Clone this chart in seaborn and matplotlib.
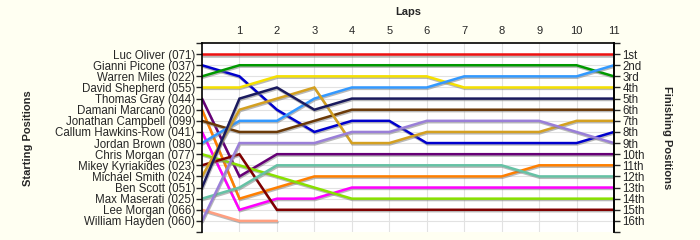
import matplotlib
matplotlib.use("Agg")
import matplotlib.pyplot as plt
import matplotlib.patheffects as pe
import seaborn as sns
import pandas as pd

# ---- data ----
laps = list(range(0, 12))
drivers = ["Luc Oliver (071)", "Gianni Picone (037)", "Warren Miles (022)",
           "David Shepherd (055)", "Thomas Gray (044)", "Damani Marcano (020)",
           "Jonathan Campbell (099)", "Callum Hawkins-Row (041)", "Jordan Brown (080)",
           "Chris Morgan (077)", "Mikey Kyriakides (023)", "Michael Smith (024)",
           "Ben Scott (051)", "Max Maserati (025)", "Lee Morgan (066)",
           "William Hayden (060)"]
luc_oliver = [1, 1, 1, 1, 1, 1, 1, 1, 1, 1, 1, 1]
gianni_picone = [2, 3, 6, 8, 7, 7, 9, 9, 9, 9, 9, 8]
warren_miles = [3, 2, 2, 2, 2, 2, 2, 2, 2, 2, 2, 3]
david_shepherd = [4, 4, 3, 3, 3, 3, 3, 4, 4, 4, 4, 4]
thomas_gray = [5, 12, 10, 10, 10, 10, 10, 10, 10, 10, 10, 10]
damani_marcano = [6, 14, 13, 12, 12, 12, 12, 12, 12, 11, 11, 11]
jonathan_campbell = [7, 8, 8, 7, 6, 6, 6, 6, 6, 6, 6, 6]
callum_hawkins_row = [8, 15, 14, 14, 13, 13, 13, 13, 13, 13, 13, 13]
jordan_brown = [9, 7, 7, 5, 4, 4, 4, 3, 3, 3, 3, 2]
chris_morgan = [10, 11, 12, 13, 14, 14, 14, 14, 14, 14, 14, 14]
mikey_kyriakides = [11, 10, 15, 15, 15, 15, 15, 15, 15, 15, 15, 15]
michael_smith = [12, 6, 5, 4, 9, 9, 8, 8, 8, 8, 7, 7]
ben_scott = [13, 5, 4, 6, 5, 5, 5, 5, 5, 5, 5, 5]
max_maserati = [14, 13, 11, 11, 11, 11, 11, 11, 11, 12, 12, 12]
lee_morgan = [15, 16, 16]
william_hayden = [16, 9, 9, 9, 8, 8, 7, 7, 7, 7, 8, 9]
finish_labels = ["1st", "2nd", "3rd", "4th", "5th", "6th", "7th", "8th", "9th",
                 "10th", "11th", "12th", "13th", "14th", "15th", "16th"]

series = [luc_oliver, gianni_picone, warren_miles, david_shepherd, thomas_gray,
          damani_marcano, jonathan_campbell, callum_hawkins_row, jordan_brown,
          chris_morgan, mikey_kyriakides, michael_smith, ben_scott, max_maserati,
          lee_morgan, william_hayden]

colors = ["#ee1111", "#0000cc", "#009900", "#f5e000", "#660077", "#ff7f00",
          "#6b3a08", "#ff00ff", "#3399ff", "#88e000", "#800000", "#d4a020",
          "#1a1a5e", "#66c2a5", "#ff9f80", "#9a7fd8"]

rows = []
for name, vals in zip(drivers, series):
    for lap, p in zip(laps, vals):
        rows.append({"driver": name, "lap": lap, "pos": p})
df = pd.DataFrame(rows)

# ---- figure ----
sns.set_style("white")
plt.rcParams["font.family"] = ["Liberation Sans", "DejaVu Sans"]

bg = "#fffff2"
fig = plt.figure(figsize=(7, 2.4), dpi=100, facecolor=bg)
ax = fig.add_axes([202 / 700, 1 - 232 / 240, (614 - 202) / 700, (232 - 43) / 240])
ax.set_facecolor("white")

sns.lineplot(data=df, x="lap", y="pos", hue="driver", hue_order=drivers,
             palette=colors, estimator=None, sort=False, legend=False,
             linewidth=1.8, ax=ax)
for line in ax.get_lines():
    line.set_path_effects([pe.SimpleLineShadow(offset=(0.5, -1.0),
                                               shadow_color="#808080", alpha=0.55),
                           pe.Normal()])
    line.set_solid_joinstyle("miter")

ax.set_xlim(0, 11)
ax.set_ylim(17, 0)
ax.set_xlabel("")
ax.set_ylabel("")

# x ticks on top
ax.set_xticks(range(1, 12))
ax.set_xticklabels([str(i) for i in range(1, 12)], fontsize=8)
ax.xaxis.tick_top()
ax.tick_params(axis="x", length=0, pad=5, top=True, bottom=False)

# left: starting positions
ax.set_yticks(range(0, 18))
ax.set_yticklabels([""] + drivers + [""], fontsize=8.3)
ax.tick_params(axis="y", length=4, width=1, pad=1, left=True, direction="out")

ax.grid(True, color="#e2e2e2", linewidth=0.8)
ax.yaxis.get_gridlines()[17].set_visible(False)
ax.yaxis.get_gridlines()[0].set_visible(False)
ax.set_axisbelow(True)

for s in ["left", "top", "right"]:
    ax.spines[s].set_visible(True)
    ax.spines[s].set_color("black")
    ax.spines[s].set_linewidth(1.2)
ax.spines["bottom"].set_visible(False)

# right: finishing positions
ax2 = ax.twinx()
ax2.set_ylim(17, 0)
ax2.set_yticks(range(0, 18))
ax2.set_yticklabels([""] + finish_labels + [""], fontsize=8.3)
ax2.tick_params(axis="y", length=4, width=1, pad=2, right=True, direction="out")
for s in ["left", "top", "bottom"]:
    ax2.spines[s].set_visible(False)
ax2.spines["right"].set_color("black")
ax2.spines["right"].set_linewidth(1.2)
ax2.grid(False)

fig.text(408 / 700, 1 - 12 / 240, "Laps", ha="center", va="center",
         fontsize=8, fontweight="bold")
fig.text(28 / 700, 1 - 138 / 240, "Starting Positions", ha="center", va="center",
         rotation=90, fontsize=8, fontweight="bold")
fig.text(667 / 700, 1 - 138 / 240, "Finishing Positions", ha="center", va="center",
         rotation=270, fontsize=8, fontweight="bold")

fig.savefig("out.png", dpi=100, facecolor=bg)
